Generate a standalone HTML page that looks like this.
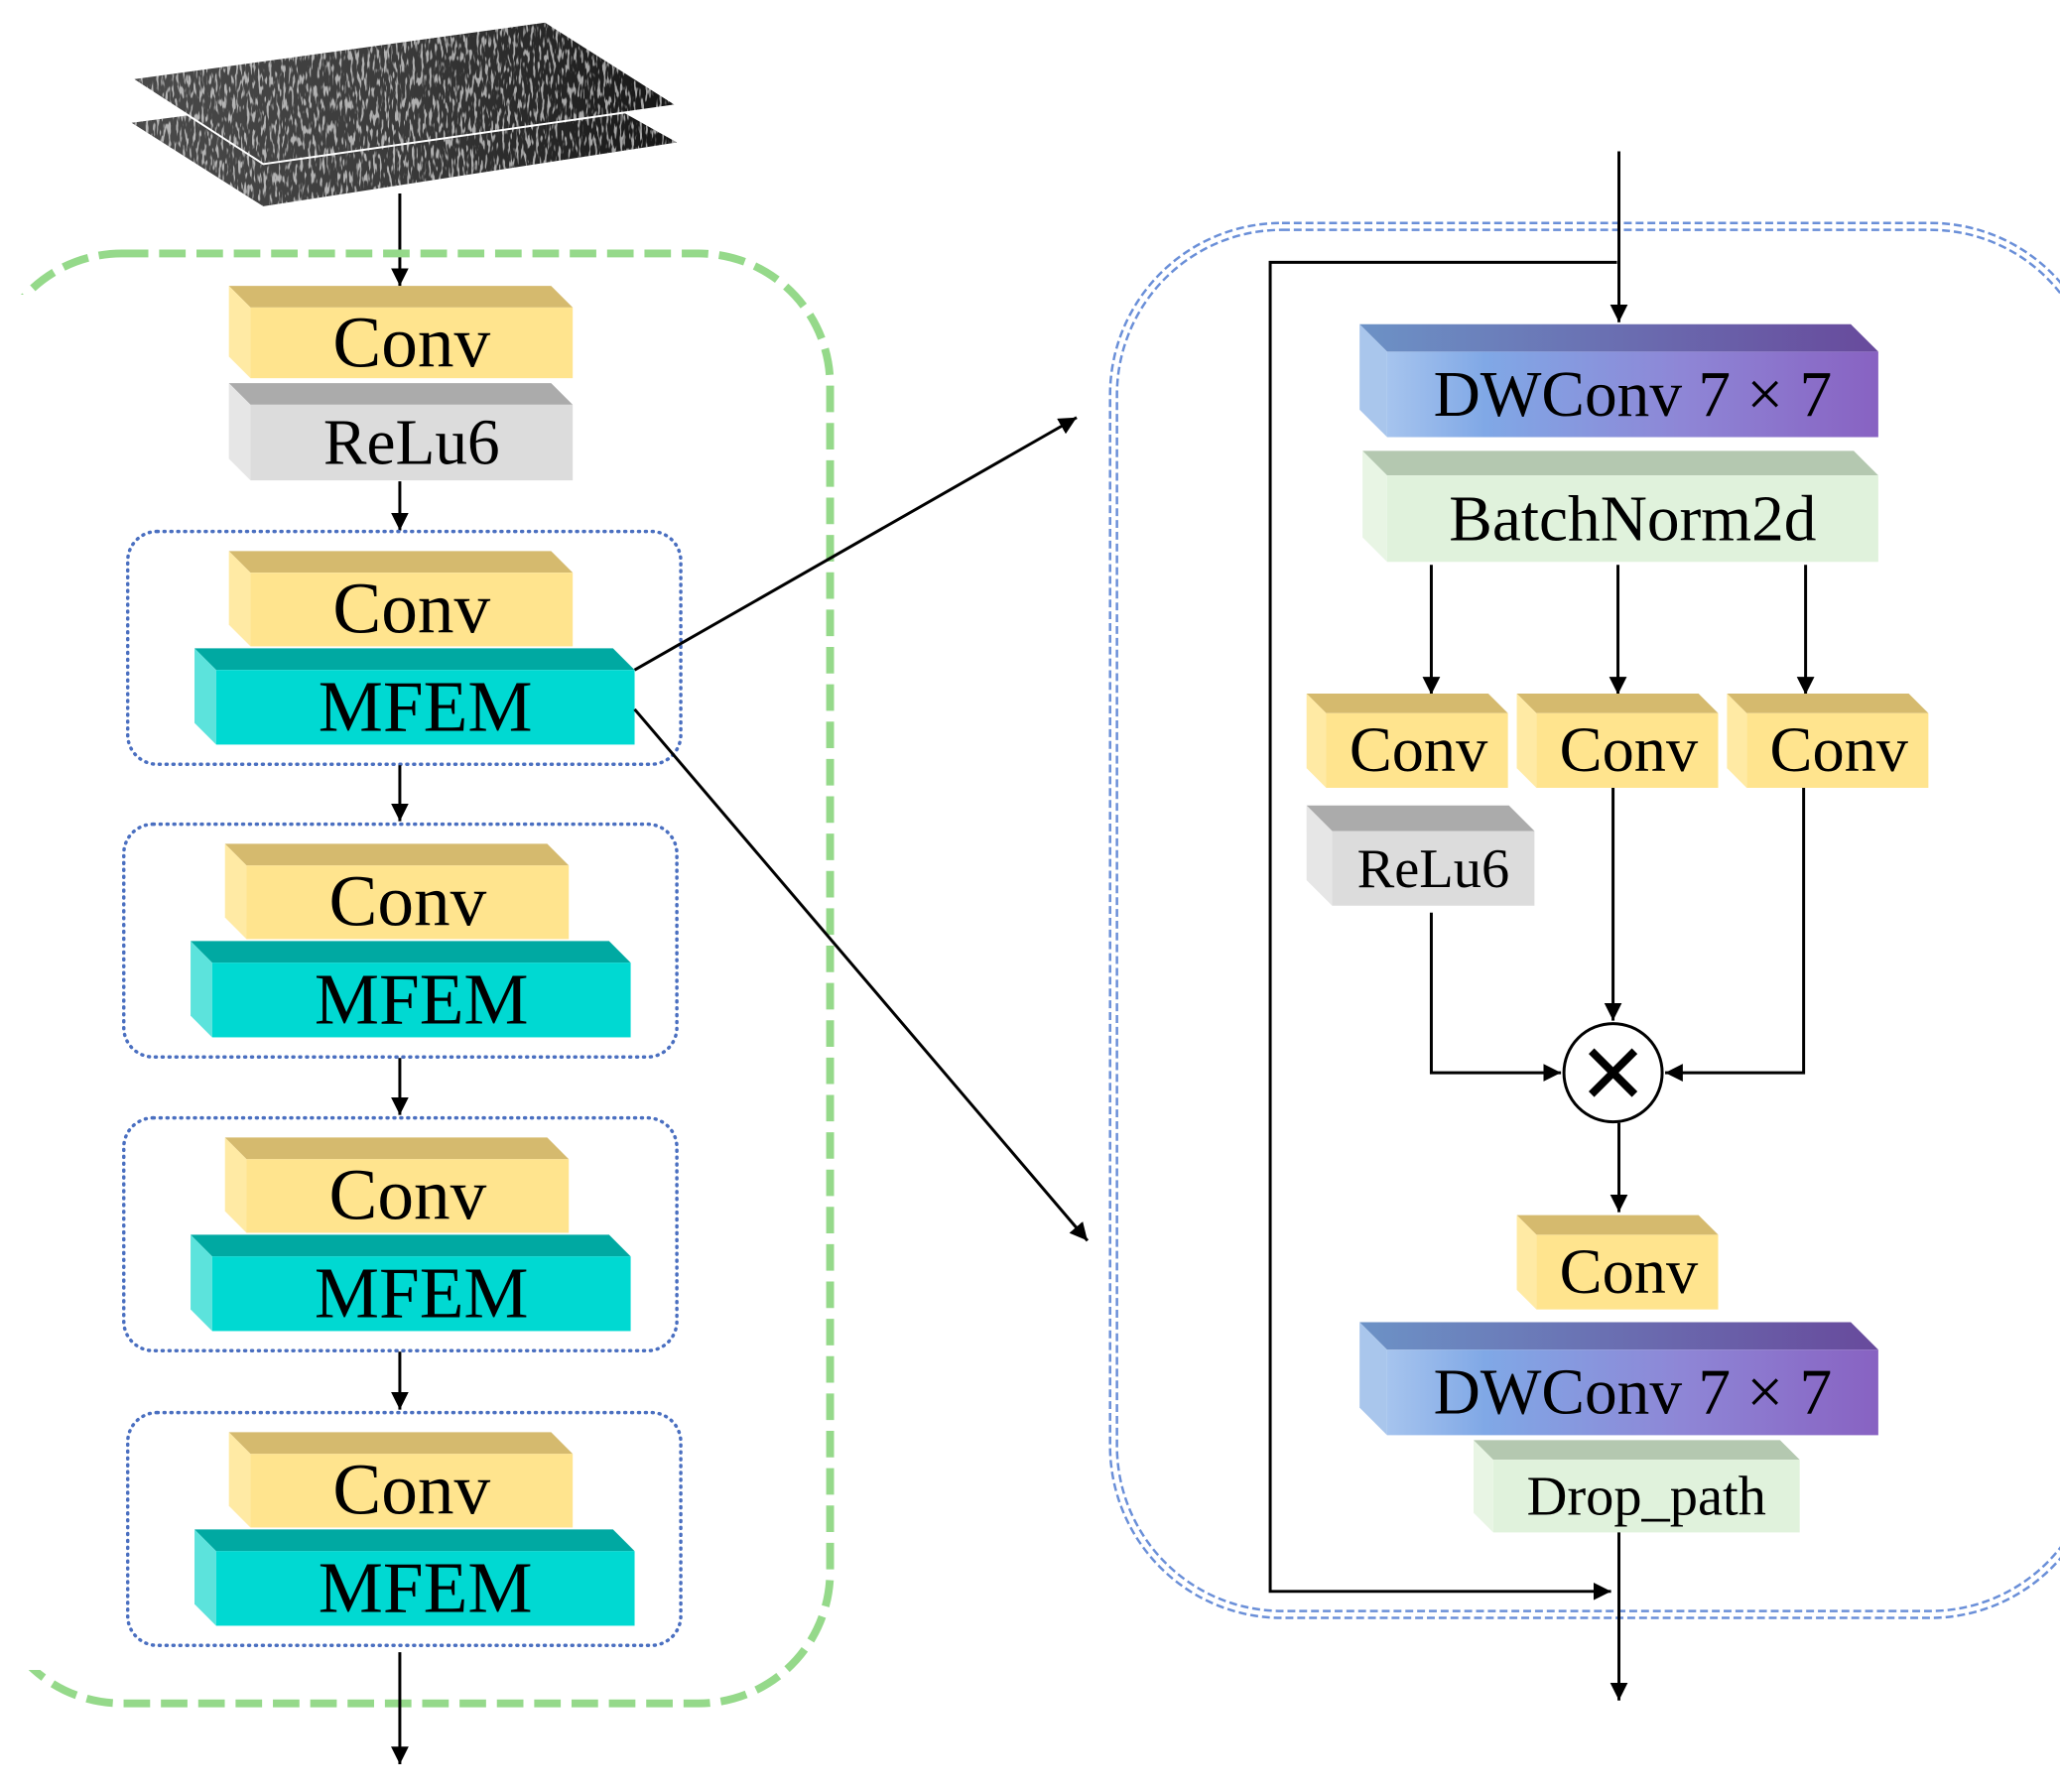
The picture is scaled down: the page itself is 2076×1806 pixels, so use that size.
<!DOCTYPE html>
<html><head><meta charset="utf-8"><style>
html,body{margin:0;padding:0;background:#fff;}
svg{display:block;}
text{font-family:"Liberation Serif",serif;fill:#000;text-anchor:middle;}
</style></head><body>
<svg width="2076" height="1806" viewBox="0 0 2076 1806" xmlns="http://www.w3.org/2000/svg">
<defs>
<marker id="ah" viewBox="0 0 10 10" refX="10" refY="5" markerWidth="6" markerHeight="6" markerUnits="strokeWidth" orient="auto">
<path d="M0,0 L10,5 L0,10 z" fill="#000"/></marker>
<linearGradient id="dwf" x1="0" x2="1" y1="0" y2="0">
<stop offset="0" stop-color="#a6c4ee"/><stop offset="0.2" stop-color="#80a8e6"/><stop offset="0.6" stop-color="#8e86d6"/><stop offset="1" stop-color="#8862c2"/></linearGradient>
<linearGradient id="dwt" x1="0" x2="1" y1="0" y2="0">
<stop offset="0" stop-color="#6c92c6"/><stop offset="1" stop-color="#684a9c"/></linearGradient>
<linearGradient id="img" x1="0" x2="1" y1="0" y2="0">
<stop offset="0" stop-color="#4a4a4a"/><stop offset="0.5" stop-color="#3a3a3a"/><stop offset="1" stop-color="#141414"/></linearGradient>
<filter id="noise" x="0" y="0" width="100%" height="100%">
<feTurbulence type="fractalNoise" baseFrequency="0.35 0.08" numOctaves="2" seed="3"/>
<feColorMatrix type="matrix" values="0 0 0 0 1  0 0 0 0 1  0 0 0 0 1  0 0 0 -8 3.8"/>
</filter>
<clipPath id="l1"><polygon points="134,80 555,22 689,107 268,167"/></clipPath>
<clipPath id="l2"><polygon points="134,125 555,70 689,145 268,210"/></clipPath>
</defs>
<g transform="scale(0.99)">
<!-- input image stack -->
<polygon points="134,125 555,70 689,145 268,210" fill="url(#img)"/>
<rect x="130" y="60" width="570" height="160" filter="url(#noise)" clip-path="url(#l2)" opacity="0.6"/>
<polygon points="134,80 555,22 689,107 268,167" fill="url(#img)" stroke="#fff" stroke-width="2"/>
<rect x="130" y="15" width="570" height="160" filter="url(#noise)" clip-path="url(#l1)" opacity="0.6"/>
<line x1="407" y1="197" x2="407" y2="291" stroke="#000" stroke-width="3" marker-end="url(#ah)"/>

<!-- green dashed container -->
<rect x="-10" y="258" width="855" height="1476" rx="134" fill="none" stroke="#95d98a" stroke-width="8" stroke-dasharray="27 11"/>
<rect x="0" y="300" width="42" height="1400" fill="#fff"/>

<!-- Conv / ReLu6 -->
<polygon points="233,291 561,291 583,313 255,313" fill="#d5ba6e"/>
<polygon points="233,291 255,313 255,385 233,363" fill="#ffeaa4"/>
<rect x="255" y="313" width="328" height="72" fill="#ffe48e"/>
<text x="419" y="373" font-size="74">Conv</text>
<polygon points="233,390 561,390 583,412 255,412" fill="#ababab"/>
<polygon points="233,390 255,412 255,489 233,467" fill="#e6e6e6"/>
<rect x="255" y="412" width="328" height="77" fill="#dcdcdc"/>
<text x="419" y="472" font-size="66">ReLu6</text>
<line x1="407" y1="490" x2="407" y2="540" stroke="#000" stroke-width="3" marker-end="url(#ah)"/>

<!-- repeated groups -->
<g id="grp">
<rect x="130" y="541" width="563" height="237" rx="30" fill="none" stroke="#4a6fc0" stroke-width="3.5" stroke-dasharray="1 6" stroke-linecap="round"/>
<polygon points="233,561 561,561 583,583 255,583" fill="#d5ba6e"/>
<polygon points="233,561 255,583 255,658 233,636" fill="#ffeaa4"/>
<rect x="255" y="583" width="328" height="75" fill="#ffe48e"/>
<text x="419" y="644" font-size="74">Conv</text>
<polygon points="198,660 624,660 646,682 220,682" fill="#00a9a2"/>
<polygon points="198,660 220,682 220,758 198,736" fill="#5ce3dc"/>
<rect x="220" y="682" width="426" height="76" fill="#00d9d2"/>
<text x="433" y="744" font-size="74">MFEM</text>
</g>
<line x1="407" y1="779" x2="407" y2="836" stroke="#000" stroke-width="3" marker-end="url(#ah)"/>
<use href="#grp" transform="translate(-4,298)"/>
<line x1="407" y1="1077" x2="407" y2="1135" stroke="#000" stroke-width="3" marker-end="url(#ah)"/>
<use href="#grp" transform="translate(-4,597)"/>
<line x1="407" y1="1376" x2="407" y2="1435" stroke="#000" stroke-width="3" marker-end="url(#ah)"/>
<use href="#grp" transform="translate(0,897)"/>
<line x1="407" y1="1682" x2="407" y2="1796" stroke="#000" stroke-width="3" marker-end="url(#ah)"/>

<!-- connectors to detail -->
<line x1="646" y1="682" x2="1096" y2="425" stroke="#000" stroke-width="3" marker-end="url(#ah)"/>
<line x1="646" y1="722" x2="1107" y2="1263" stroke="#000" stroke-width="3" marker-end="url(#ah)"/>

<!-- blue double dashed container -->
<rect x="1130" y="227" width="1010" height="1420" rx="175" fill="none" stroke="#6a8fd8" stroke-width="2.5" stroke-dasharray="8 4"/>
<rect x="1137" y="234" width="996" height="1406" rx="168" fill="none" stroke="#6a8fd8" stroke-width="2.5" stroke-dasharray="8 4"/>

<!-- skip connection -->
<polyline points="1646,267 1293,267 1293,1620 1640,1620" fill="none" stroke="#000" stroke-width="3" marker-end="url(#ah)"/>
<line x1="1648" y1="154" x2="1648" y2="328" stroke="#000" stroke-width="3" marker-end="url(#ah)"/>

<!-- DWConv 1 -->
<polygon points="1384,330 1884,330 1912,358 1412,358" fill="url(#dwt)"/>
<polygon points="1384,330 1412,358 1412,445 1384,417" fill="#a9c6ec"/>
<rect x="1412" y="358" width="500" height="87" fill="url(#dwf)"/>
<text x="1662" y="423" font-size="66">DWConv 7 × 7</text>
<!-- BatchNorm2d -->
<polygon points="1387,459 1887,459 1912,484 1412,484" fill="#b4c8b0"/>
<polygon points="1387,459 1412,484 1412,572 1387,547" fill="#e8f5e4"/>
<rect x="1412" y="484" width="500" height="88" fill="#e0f2dc"/>
<text x="1662" y="550" font-size="66">BatchNorm2d</text>

<line x1="1457" y1="575" x2="1457" y2="707" stroke="#000" stroke-width="3" marker-end="url(#ah)"/>
<line x1="1647" y1="575" x2="1647" y2="707" stroke="#000" stroke-width="3" marker-end="url(#ah)"/>
<line x1="1838" y1="575" x2="1838" y2="707" stroke="#000" stroke-width="3" marker-end="url(#ah)"/>

<!-- three convs -->
<polygon points="1330,706 1515,706 1535,726 1350,726" fill="#d5ba6e"/>
<polygon points="1330,706 1350,726 1350,802 1330,782" fill="#ffeaa4"/>
<rect x="1350" y="726" width="185" height="76" fill="#ffe48e"/>
<text x="1444" y="785" font-size="65">Conv</text>
<polygon points="1544,706 1729,706 1749,726 1564,726" fill="#d5ba6e"/>
<polygon points="1544,706 1564,726 1564,802 1544,782" fill="#ffeaa4"/>
<rect x="1564" y="726" width="185" height="76" fill="#ffe48e"/>
<text x="1658" y="785" font-size="65">Conv</text>
<polygon points="1758,706 1943,706 1963,726 1778,726" fill="#d5ba6e"/>
<polygon points="1758,706 1778,726 1778,802 1758,782" fill="#ffeaa4"/>
<rect x="1778" y="726" width="185" height="76" fill="#ffe48e"/>
<text x="1872" y="785" font-size="65">Conv</text>

<!-- ReLu6 small -->
<polygon points="1330,820 1536,820 1562,846 1356,846" fill="#ababab"/>
<polygon points="1330,820 1356,846 1356,922 1330,896" fill="#e6e6e6"/>
<rect x="1356" y="846" width="206" height="76" fill="#dcdcdc"/>
<text x="1459" y="903" font-size="57">ReLu6</text>

<!-- to multiply -->
<polyline points="1457,929 1457,1092 1589,1092" fill="none" stroke="#000" stroke-width="3" marker-end="url(#ah)"/>
<line x1="1642" y1="802" x2="1642" y2="1039" stroke="#000" stroke-width="3" marker-end="url(#ah)"/>
<polyline points="1836,802 1836,1092 1695,1092" fill="none" stroke="#000" stroke-width="3" marker-end="url(#ah)"/>
<circle cx="1642" cy="1092" r="50" fill="#fff" stroke="#000" stroke-width="3"/>
<line x1="1620" y1="1070" x2="1664" y2="1114" stroke="#000" stroke-width="8"/>
<line x1="1664" y1="1070" x2="1620" y2="1114" stroke="#000" stroke-width="8"/>
<line x1="1648" y1="1143" x2="1648" y2="1234" stroke="#000" stroke-width="3" marker-end="url(#ah)"/>

<!-- bottom conv -->
<polygon points="1544,1237 1729,1237 1749,1257 1564,1257" fill="#d5ba6e"/>
<polygon points="1544,1237 1564,1257 1564,1333 1544,1313" fill="#ffeaa4"/>
<rect x="1564" y="1257" width="185" height="76" fill="#ffe48e"/>
<text x="1658" y="1316" font-size="65">Conv</text>

<!-- DWConv 2 -->
<polygon points="1384,1346 1884,1346 1912,1374 1412,1374" fill="url(#dwt)"/>
<polygon points="1384,1346 1412,1374 1412,1461 1384,1433" fill="#a9c6ec"/>
<rect x="1412" y="1374" width="500" height="87" fill="url(#dwf)"/>
<text x="1662" y="1439" font-size="66">DWConv 7 × 7</text>

<!-- Drop_path -->
<polygon points="1500,1466 1812,1466 1832,1486 1520,1486" fill="#b4c8b0"/>
<polygon points="1500,1466 1520,1486 1520,1560 1500,1540" fill="#e8f5e4"/>
<rect x="1520" y="1486" width="312" height="74" fill="#e0f2dc"/>
<text x="1676" y="1542" font-size="57">Drop_path</text>

<line x1="1648" y1="1560" x2="1648" y2="1731" stroke="#000" stroke-width="3" marker-end="url(#ah)"/>
</g>
</svg>
</body></html>
